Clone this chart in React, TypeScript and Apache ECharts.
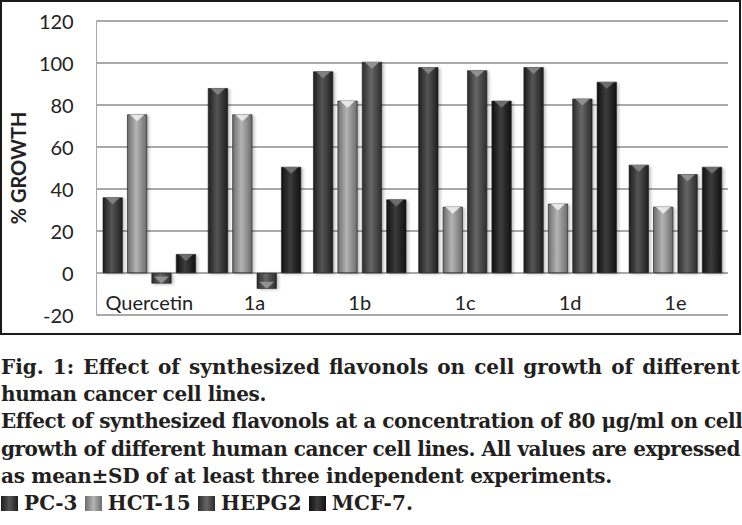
import { useEffect, useLayoutEffect, useRef, useState } from "react";
import * as echarts from "echarts";

const categories = ["Quercetin", "1a", "1b", "1c", "1d", "1e"];
const pc3 = [36, 88, 96, 98, 98, 51.5];
const hct15 = [75.5, 75.5, 82, 31.5, 33, 31.5];
const hepg2 = [-5, -7.5, 100.5, 96.5, 83, 47];
const mcf7 = [9, 50.5, 35, 82, 91, 50.5];
const seriesNames = ["PC-3", "HCT-15", "HEPG2", "MCF-7"];

const yTicks = { min: -20, max: 120, interval: 20 };

const captionLines = [
    "Fig. 1: Effect of synthesized flavonols on cell growth of different",
    "human cancer cell lines.",
    "Effect of synthesized flavonols at a concentration of 80 μg/ml on cell",
    "growth of different human cancer cell lines. All values are expressed",
    "as mean±SD of at least three independent experiments.",
];
const legendText = "PC-3 HCT-15 HEPG2 MCF-7.";

// edge, middle, bevel colours per series
const palette = [
    { edge: "#1e1e1e", mid: "#555555", bevel: "#8a8a8a" },
    { edge: "#6c6c6c", mid: "#b4b4b4", bevel: "#f2f2f2" },
    { edge: "#2c2c2c", mid: "#666666", bevel: "#9a9a9a" },
    { edge: "#111111", mid: "#3c3c3c", bevel: "#777777" },
];

const FONT = "Lato, 'Open Sans', sans-serif";
const SERIF = "'DejaVu Serif', serif";
const SWATCH_W = 17;
const SWATCH_GAP = 6;
const TEXT_W = 739;

function grad(p: { edge: string; mid: string }) {
    return {
        type: "linear",
        x: 0,
        y: 0,
        x2: 1,
        y2: 0,
        colorStops: [
            { offset: 0, color: p.edge },
            { offset: 0.45, color: p.mid },
            { offset: 1, color: p.edge },
        ],
    };
}

function BarChart() {
    const ref = useRef<HTMLDivElement | null>(null);

    useEffect(() => {
        if (!ref.current) return;
        const chart = echarts.init(ref.current, undefined, { renderer: "svg" });
        const all = [pc3, hct15, hepg2, mcf7];

        const bars = all.map((data, i) => ({
            name: seriesNames[i],
            type: "bar",
            data,
            barWidth: 20,
            barGap: "22%",
            z: 2,
            itemStyle: {
                color: grad(palette[i]),
                borderColor: "#1a1a1a",
                borderWidth: 0.6,
                shadowColor: "rgba(0,0,0,0.25)",
                shadowBlur: 3,
                shadowOffsetX: 2,
                shadowOffsetY: 1,
            },
        }));

        const bevels = all.map((data, i) => ({
            name: seriesNames[i] + " bevel",
            type: "pictorialBar",
            data: data.map((v) => ({ value: v, symbolRotate: v >= 0 ? 180 : 0 })),
            barWidth: 20,
            barGap: "22%",
            symbol: "triangle",
            symbolSize: [15, 7],
            symbolPosition: "end",
            z: 3,
            silent: true,
            itemStyle: { color: palette[i].bevel, opacity: 0.85 },
        }));

        chart.setOption({
            animation: false,
            grid: { left: 96, right: 14, top: 21, bottom: 21 },
            graphic: [
                {
                    type: "rect",
                    shape: { x: 1, y: 1, width: 739, height: 333 },
                    style: { fill: "none", stroke: "#1a1a1a", lineWidth: 2 },
                    silent: true,
                },
            ],
            xAxis: {
                type: "category",
                data: categories,
                position: "bottom",
                axisLine: { show: false },
                axisTick: { show: false },
                axisLabel: {
                    inside: true,
                    interval: 0,
                    margin: 3,
                    fontFamily: FONT,
                    fontSize: 20,
                    color: "#222222",
                },
            },
            yAxis: {
                type: "value",
                min: yTicks.min,
                max: yTicks.max,
                interval: yTicks.interval,
                name: "% GROWTH",
                nameLocation: "middle",
                nameGap: 62,
                nameTextStyle: {
                    fontFamily: FONT,
                    fontSize: 20,
                    fontWeight: "bold",
                    color: "#222222",
                },
                axisLine: { show: true, onZero: false, lineStyle: { color: "#a8a8a8", width: 1 } },
                axisTick: { show: false },
                axisLabel: {
                    margin: 23,
                    fontFamily: FONT,
                    fontSize: 20,
                    color: "#222222",
                },
                splitLine: { lineStyle: { color: "#8c8c8c", width: 1.6 } },
            },
            series: [...bars, ...bevels],
        });

        return () => chart.dispose();
    }, []);

    return <div ref={ref} style={{ width: 742, height: 336 }} />;
}

const swatch = (i: number) => (
    <span
        style={{
            display: "inline-block",
            width: SWATCH_W,
            height: 15,
            marginRight: SWATCH_GAP,
            verticalAlign: -1,
            background: `linear-gradient(90deg, ${palette[i].edge}, ${palette[i].mid}, ${palette[i].edge})`,
        }}
    />
);

// printed widths of the caption lines (null = justified to the full width)
const lineTargets: (number | null)[] = [null, 265, TEXT_W, null, 611];
const legendTarget = 412 - 4 * (SWATCH_W + SWATCH_GAP);

export default function App() {
    const measureRefs = useRef<(HTMLSpanElement | null)[]>([]);
    const [spacing, setSpacing] = useState<number[]>([0, 0, 0, 0, 0, 0]);

    useEffect(() => {
        document.body.style.margin = "0";
    }, []);

    // letter spacing that brings each line to the width it has in print
    useLayoutEffect(() => {
        const texts = [...captionLines, legendText];
        const targets = [...lineTargets, legendTarget];
        setSpacing(
            texts.map((t, i) => {
                const w = measureRefs.current[i]?.getBoundingClientRect().width ?? 0;
                const target = targets[i];
                if (target === null) return Math.min(0, (TEXT_W - 1 - w) / t.length);
                return (target - w) / t.length;
            })
        );
    }, []);

    const serifText = {
        fontFamily: SERIF,
        fontWeight: "bold" as const,
        fontSize: 20,
        color: "#231f20",
    };
    const justified = { textAlign: "justify" as const, textAlignLast: "justify" as const, whiteSpace: "nowrap" as const };
    const plain = { whiteSpace: "nowrap" as const };

    return (
        <div style={{ width: 742, background: "#ffffff", position: "relative" }}>
            <BarChart />
            <div style={{ ...serifText, width: TEXT_W, paddingLeft: 1, marginTop: 18, lineHeight: "27.2px" }}>
                <div style={{ ...justified, letterSpacing: spacing[0] }}>{captionLines[0]}</div>
                <div style={{ ...plain, letterSpacing: spacing[1] }}>{captionLines[1]}</div>
                <div style={{ ...justified, letterSpacing: spacing[2] }}>{captionLines[2]}</div>
                <div style={{ ...justified, letterSpacing: spacing[3] }}>{captionLines[3]}</div>
                <div style={{ ...plain, letterSpacing: spacing[4] }}>{captionLines[4]}</div>
                <div style={{ ...plain, letterSpacing: spacing[5] }}>
                    {swatch(0)}PC-3 {swatch(1)}HCT-15 {swatch(2)}HEPG2 {swatch(3)}MCF-7.
                </div>
            </div>
            {/* hidden copies, only to measure the natural widths */}
            <div style={{ position: "absolute", left: 0, top: 0, visibility: "hidden", ...serifText }}>
                {[...captionLines, legendText].map((t, i) => (
                    <span
                        key={i}
                        ref={(el) => {
                            measureRefs.current[i] = el;
                        }}
                        style={{ display: "inline-block", whiteSpace: "nowrap", position: "absolute" }}
                    >
                        {t}
                    </span>
                ))}
            </div>
        </div>
    );
}
